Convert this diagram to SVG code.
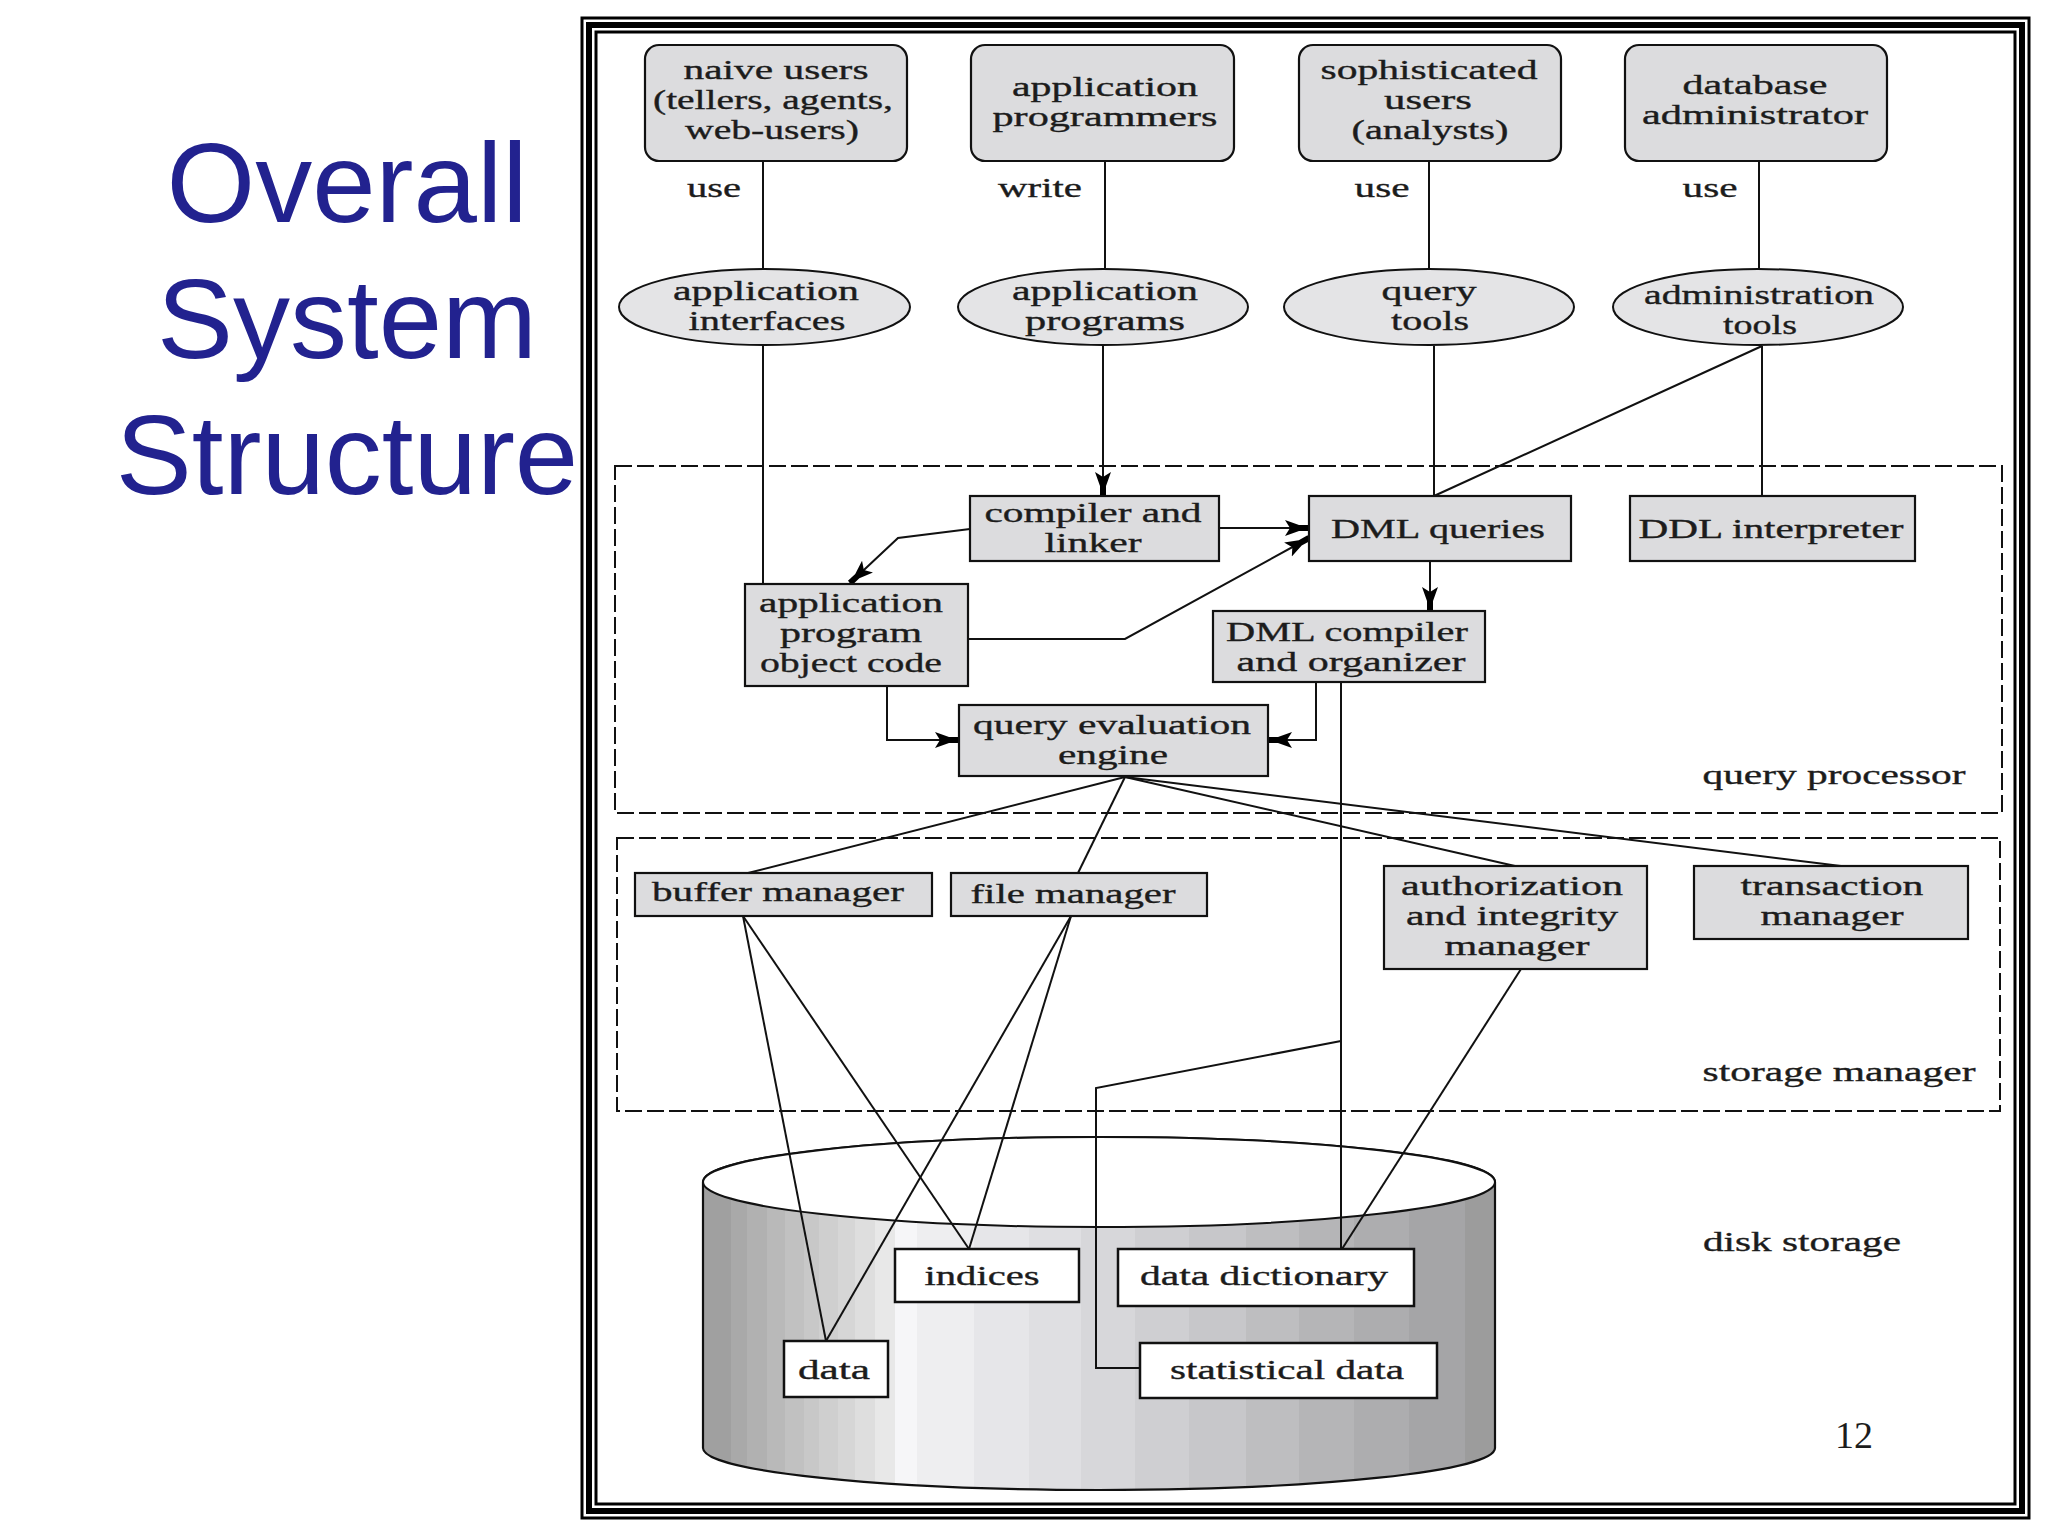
<svg xmlns="http://www.w3.org/2000/svg" width="2048" height="1536" viewBox="0 0 2048 1536">
<style>
text{font-family:"Liberation Serif","Times New Roman",serif;font-size:27px;fill:#1c1c1c;stroke:#1c1c1c;stroke-width:.35;text-anchor:middle}
.t{font-family:"Liberation Sans",Arial,sans-serif;font-size:114px;fill:#22228f;stroke:none}
.n{fill:#dcdcde;stroke:#111;stroke-width:2.2}
.e{fill:#e4e4e6;stroke:#111;stroke-width:2}
.w{fill:#fff;stroke:#111;stroke-width:2.5}
.c{fill:none;stroke:#111;stroke-width:2}
.a{marker-end:url(#ah)}
.d{fill:none;stroke:#111;stroke-width:2;stroke-dasharray:17 5}
</style>
<defs>
<marker id="ah" markerUnits="userSpaceOnUse" markerWidth="26" markerHeight="20" refX="24" refY="10" orient="auto">
<path d="M0,2 L14,7 H24 V13 H14 L0,18 L5,10 Z" fill="#000"/>
</marker>
<linearGradient id="cyl" gradientUnits="userSpaceOnUse" x1="703" y1="0" x2="1495" y2="0">
<stop offset="0" stop-color="#a0a0a0"/><stop offset=".035" stop-color="#a0a0a0"/>
<stop offset=".035" stop-color="#a9a9a9"/><stop offset=".056" stop-color="#a9a9a9"/>
<stop offset=".056" stop-color="#b1b1b1"/><stop offset=".081" stop-color="#b1b1b1"/>
<stop offset=".081" stop-color="#b9b9b9"/><stop offset=".103" stop-color="#b9b9b9"/>
<stop offset=".103" stop-color="#c1c1c1"/><stop offset=".127" stop-color="#c1c1c1"/>
<stop offset=".127" stop-color="#c8c8c8"/><stop offset=".147" stop-color="#c8c8c8"/>
<stop offset=".147" stop-color="#cfcfcf"/><stop offset=".171" stop-color="#cfcfcf"/>
<stop offset=".171" stop-color="#d6d6d6"/><stop offset=".192" stop-color="#d6d6d6"/>
<stop offset=".192" stop-color="#dedede"/><stop offset=".217" stop-color="#dedede"/>
<stop offset=".217" stop-color="#e8e8e8"/><stop offset=".242" stop-color="#e8e8e8"/>
<stop offset=".242" stop-color="#f6f6f8"/><stop offset=".27" stop-color="#f6f6f8"/>
<stop offset=".27" stop-color="#eeeef0"/><stop offset=".342" stop-color="#eeeef0"/>
<stop offset=".342" stop-color="#e6e6e9"/><stop offset=".411" stop-color="#e6e6e9"/>
<stop offset=".411" stop-color="#dfdfe2"/><stop offset=".477" stop-color="#dfdfe2"/>
<stop offset=".477" stop-color="#d7d7da"/><stop offset=".546" stop-color="#d7d7da"/>
<stop offset=".546" stop-color="#cfcfd2"/><stop offset=".614" stop-color="#cfcfd2"/>
<stop offset=".614" stop-color="#c7c7ca"/><stop offset=".685" stop-color="#c7c7ca"/>
<stop offset=".685" stop-color="#bebec0"/><stop offset=".753" stop-color="#bebec0"/>
<stop offset=".753" stop-color="#b5b5b7"/><stop offset=".822" stop-color="#b5b5b7"/>
<stop offset=".822" stop-color="#adadaf"/><stop offset=".892" stop-color="#adadaf"/>
<stop offset=".892" stop-color="#a5a5a7"/><stop offset=".962" stop-color="#a5a5a7"/>
<stop offset=".962" stop-color="#9c9c9c"/><stop offset="1" stop-color="#9c9c9c"/>
</linearGradient>
</defs>
<rect width="2048" height="1536" fill="#fff"/>

<g id="title">
<text class="t" x="347" y="222">Overall</text>
<text class="t" x="347" y="358">System</text>
<text class="t" x="347" y="494">Structure</text>
</g>

<g id="frame" fill="none" stroke="#000">
<rect x="582" y="18" width="1447" height="1500" stroke-width="3"/>
<rect x="589" y="25" width="1433" height="1486" stroke-width="6"/>
<rect x="596" y="32" width="1419" height="1472" stroke-width="3"/>
</g>

<g id="regions">
<rect class="d" x="615" y="466" width="1387" height="347"/>
<rect class="d" x="617" y="838" width="1383" height="273"/>
</g>

<g id="disk-cylinder">
<path d="M703,1182 A396 45 0 0 1 1495,1182 V1448 A396 42 0 0 1 703,1448 Z" fill="url(#cyl)" stroke="#111" stroke-width="2.2"/>
<ellipse cx="1099" cy="1182" rx="396" ry="45" fill="#fff" stroke="#111" stroke-width="2"/>
</g>

<g id="connectors">
<path class="c" d="M763,161V268M763,346V584"/>
<path class="c" d="M1105,161V268"/>
<path class="c a" d="M1103,346V496"/>
<path class="c" d="M1429,161V268"/>
<path class="c" d="M1434,346V496"/>
<path class="c" d="M1759,161V268"/>
<path class="c" d="M1762,346V496"/>
<path class="c" d="M1762,346L1434,496"/>
<path class="c a" d="M970,529L898,538L850,583"/>
<path class="c a" d="M1219,528H1309"/>
<path class="c a" d="M968,639H1125L1309,538"/>
<path class="c a" d="M1430,561V611"/>
<path class="c a" d="M887,686V740H959"/>
<path class="c a" d="M1316,682V740H1268"/>
<path class="c" d="M1341,682V1249"/>
<path class="c" d="M1341,1041L1096,1088V1368H1140"/>
<path class="c" d="M1125,777L748,873"/>
<path class="c" d="M1125,777L1078,873"/>
<path class="c" d="M1125,777L1515,866"/>
<path class="c" d="M1125,777L1841,866"/>
<path class="c" d="M743,916L826,1341"/>
<path class="c" d="M743,916L969,1249"/>
<path class="c" d="M1071,916L969,1249"/>
<path class="c" d="M1071,916L826,1341"/>
<path class="c" d="M1521,969L1342,1249"/>
</g>

<g id="naive-users"><rect class="n" x="645" y="45" width="262" height="116" rx="14"/>
<text x="776" y="79" textLength="185" lengthAdjust="spacingAndGlyphs">naive users</text>
<text x="773" y="109" textLength="240" lengthAdjust="spacingAndGlyphs">(tellers, agents,</text>
<text x="772" y="139" textLength="174" lengthAdjust="spacingAndGlyphs">web-users)</text></g>
<g id="application-programmers"><rect class="n" x="971" y="45" width="263" height="116" rx="14"/>
<text x="1105" y="96" textLength="186" lengthAdjust="spacingAndGlyphs">application</text>
<text x="1105" y="126" textLength="225" lengthAdjust="spacingAndGlyphs">programmers</text></g>
<g id="sophisticated-users"><rect class="n" x="1299" y="45" width="262" height="116" rx="14"/>
<text x="1429" y="79" textLength="217" lengthAdjust="spacingAndGlyphs">sophisticated</text>
<text x="1428" y="109" textLength="88" lengthAdjust="spacingAndGlyphs">users</text>
<text x="1430" y="139" textLength="157" lengthAdjust="spacingAndGlyphs">(analysts)</text></g>
<g id="database-administrator"><rect class="n" x="1625" y="45" width="262" height="116" rx="14"/>
<text x="1755" y="94" textLength="145" lengthAdjust="spacingAndGlyphs">database</text>
<text x="1755" y="124" textLength="226" lengthAdjust="spacingAndGlyphs">administrator</text></g>

<g id="edge-labels">
<text x="714" y="197" textLength="54" lengthAdjust="spacingAndGlyphs">use</text>
<text x="1040" y="197" textLength="84" lengthAdjust="spacingAndGlyphs">write</text>
<text x="1382" y="197" textLength="55" lengthAdjust="spacingAndGlyphs">use</text>
<text x="1710" y="197" textLength="55" lengthAdjust="spacingAndGlyphs">use</text>
</g>

<g id="application-interfaces"><ellipse class="e" cx="764.500" cy="307" rx="145.500" ry="38"/>
<text x="766" y="300" textLength="186" lengthAdjust="spacingAndGlyphs">application</text>
<text x="767" y="330" textLength="157" lengthAdjust="spacingAndGlyphs">interfaces</text></g>
<g id="application-programs"><ellipse class="e" cx="1103" cy="307" rx="145" ry="38"/>
<text x="1105" y="300" textLength="186" lengthAdjust="spacingAndGlyphs">application</text>
<text x="1105" y="330" textLength="160" lengthAdjust="spacingAndGlyphs">programs</text></g>
<g id="query-tools"><ellipse class="e" cx="1429" cy="307" rx="145" ry="38"/>
<text x="1429" y="300" textLength="95" lengthAdjust="spacingAndGlyphs">query</text>
<text x="1430" y="330" textLength="78" lengthAdjust="spacingAndGlyphs">tools</text></g>
<g id="administration-tools"><ellipse class="e" cx="1758" cy="307" rx="145" ry="38"/>
<text x="1759" y="304" textLength="230" lengthAdjust="spacingAndGlyphs">administration</text>
<text x="1760" y="334" textLength="74" lengthAdjust="spacingAndGlyphs">tools</text></g>

<g id="compiler-linker"><rect class="n" x="970" y="496" width="249" height="65"/>
<text x="1093" y="522" textLength="217" lengthAdjust="spacingAndGlyphs">compiler and</text>
<text x="1093" y="552" textLength="97" lengthAdjust="spacingAndGlyphs">linker</text></g>
<g id="dml-queries"><rect class="n" x="1309" y="496" width="262" height="65"/>
<text x="1438" y="538" textLength="214" lengthAdjust="spacingAndGlyphs">DML queries</text></g>
<g id="ddl-interpreter"><rect class="n" x="1630" y="496" width="285" height="65"/>
<text x="1771" y="538" textLength="265" lengthAdjust="spacingAndGlyphs">DDL interpreter</text></g>
<g id="object-code"><rect class="n" x="745" y="584" width="223" height="102"/>
<text x="851" y="612" textLength="184" lengthAdjust="spacingAndGlyphs">application</text>
<text x="851" y="642" textLength="142" lengthAdjust="spacingAndGlyphs">program</text>
<text x="851" y="672" textLength="182" lengthAdjust="spacingAndGlyphs">object code</text></g>
<g id="dml-compiler"><rect class="n" x="1213" y="611" width="272" height="71"/>
<text x="1347" y="641" textLength="242" lengthAdjust="spacingAndGlyphs">DML compiler</text>
<text x="1351" y="671" textLength="229" lengthAdjust="spacingAndGlyphs">and organizer</text></g>
<g id="query-evaluation"><rect class="n" x="959" y="705" width="309" height="71"/>
<text x="1112" y="734" textLength="278" lengthAdjust="spacingAndGlyphs">query evaluation</text>
<text x="1113" y="764" textLength="110" lengthAdjust="spacingAndGlyphs">engine</text></g>
<g id="query-processor"><text x="1834" y="784" textLength="263" lengthAdjust="spacingAndGlyphs">query processor</text></g>

<g id="buffer-manager"><rect class="n" x="635" y="873" width="297" height="43"/>
<text x="778" y="901" textLength="252" lengthAdjust="spacingAndGlyphs">buffer manager</text></g>
<g id="file-manager"><rect class="n" x="951" y="873" width="256" height="43"/>
<text x="1073" y="903" textLength="205" lengthAdjust="spacingAndGlyphs">file manager</text></g>
<g id="authorization"><rect class="n" x="1384" y="866" width="263" height="103"/>
<text x="1512" y="895" textLength="222" lengthAdjust="spacingAndGlyphs">authorization</text>
<text x="1512" y="925" textLength="212" lengthAdjust="spacingAndGlyphs">and integrity</text>
<text x="1517" y="955" textLength="145" lengthAdjust="spacingAndGlyphs">manager</text></g>
<g id="transaction-manager"><rect class="n" x="1694" y="866" width="274" height="73"/>
<text x="1832" y="895" textLength="183" lengthAdjust="spacingAndGlyphs">transaction</text>
<text x="1832" y="925" textLength="143" lengthAdjust="spacingAndGlyphs">manager</text></g>
<g id="storage-manager"><text x="1839" y="1081" textLength="273" lengthAdjust="spacingAndGlyphs">storage manager</text></g>
<g id="disk-storage"><text x="1802" y="1251" textLength="198" lengthAdjust="spacingAndGlyphs">disk storage</text></g>

<g id="indices"><rect class="w" x="895" y="1249" width="184" height="53"/>
<text x="982" y="1285" textLength="115" lengthAdjust="spacingAndGlyphs">indices</text></g>
<g id="data-dictionary"><rect class="w" x="1118" y="1249" width="296" height="57"/>
<text x="1264" y="1285" textLength="248" lengthAdjust="spacingAndGlyphs">data dictionary</text></g>
<g id="data"><rect class="w" x="784" y="1341" width="104" height="56"/>
<text x="834" y="1379" textLength="72" lengthAdjust="spacingAndGlyphs">data</text></g>
<g id="statistical-data"><rect class="w" x="1140" y="1343" width="297" height="55"/>
<text x="1287" y="1379" textLength="234" lengthAdjust="spacingAndGlyphs">statistical data</text></g>
<text id="page-number" x="1854" y="1448" style="font-size:38px;stroke:none">12</text>
</svg>
